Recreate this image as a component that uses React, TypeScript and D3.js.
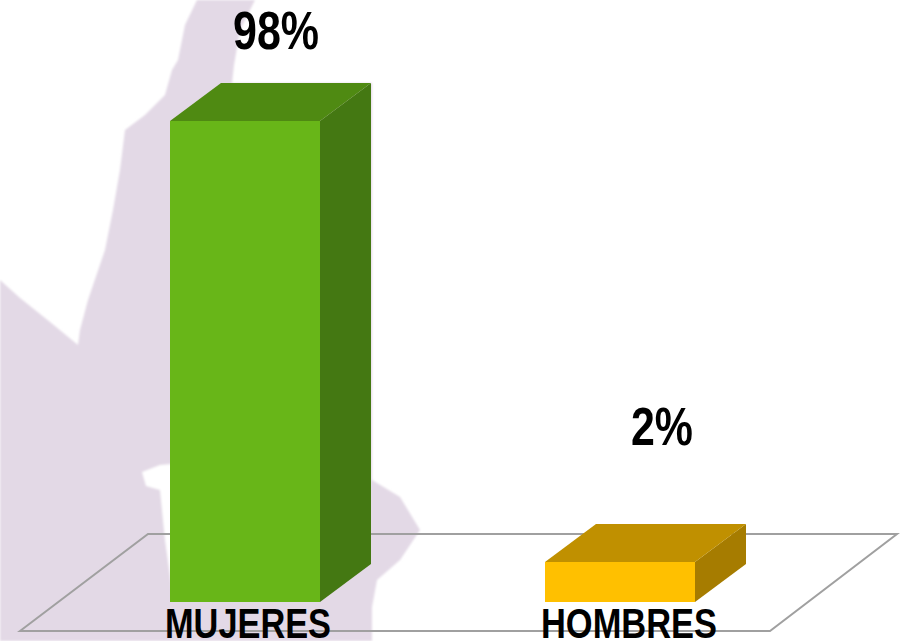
import * as d3 from "d3"
import { useEffect, useRef } from "react"

const categories = ["MUJERES", "HOMBRES"]
const percents = [98, 2]
const frontColours = ["#68b618", "#ffc000"]
const topColours = ["#4f8a12", "#c09000"]
const sideColours = ["#447812", "#a67c00"]

// pale map silhouette behind the chart, purely decorative
const silhouette =
  "M197,0 L185,25 L178,60 L172,70 L165,95 L145,115 L125,130 L120,170 L113,210 L105,250 L88,300 L80,330 L78,345 L50,322 L20,298 L0,280 L0,641 L372,641 L372,607 L377,580 L400,560 L420,530 L400,497 L372,480 L372,83 L232,83 L234,65 L240,30 L255,0 Z"
const notch = "M142,472 L160,465 L172,464 L172,590 L165,540 L160,490 L146,486 Z"

const width = 905
const height = 641
const baseY = 602
const depthX = 51
const depthY = 38
const fontFamily = "'Liberation Sans', Arial, sans-serif"

const App = () => {
  const ref = useRef<SVGSVGElement>(null)

  useEffect(() => {
    const svg = d3.select(ref.current)
    svg.selectAll("*").remove()

    const x = d3
      .scaleBand()
      .domain(categories)
      .range([57.5, 807.5])
      .paddingInner(0.6)
      .paddingOuter(0.3)

    // the source chart does not draw its bars to a linear scale: 2% is much taller than it should be
    const y = d3.scaleLinear().domain([0, 2, 98]).range([baseY, 562, 121])

    svg
      .append("defs")
      .append("filter")
      .attr("id", "soft")
      .append("feGaussianBlur")
      .attr("stdDeviation", 1)

    const backdrop = svg.append("g").attr("filter", "url(#soft)")
    backdrop.append("path").attr("d", silhouette).attr("fill", "#e3d9e6")
    backdrop.append("path").attr("d", notch).attr("fill", "#ffffff")

    const line = d3.line()
    svg
      .append("path")
      .attr("d", line([[20, 631], [148, 534], [897, 534], [770, 631]]) + "Z")
      .attr("fill", "none")
      .attr("stroke", "#a0a0a0")
      .attr("stroke-width", 2)

    const bars = svg
      .selectAll("g.bar")
      .data(categories)
      .enter()
      .append("g")
      .attr("class", "bar")

    bars
      .append("path")
      .attr("fill", (d, i) => sideColours[i])
      .attr("d", (d, i) => {
        const x1 = x(d) + x.bandwidth()
        return line([
          [x1, y(percents[i])],
          [x1 + depthX, y(percents[i]) - depthY],
          [x1 + depthX, baseY - depthY],
          [x1, baseY],
        ]) + "Z"
      })

    bars
      .append("path")
      .attr("fill", (d, i) => topColours[i])
      .attr("d", (d, i) => {
        const x0 = x(d)
        const top = y(percents[i])
        return line([
          [x0, top],
          [x0 + depthX, top - depthY],
          [x0 + x.bandwidth() + depthX, top - depthY],
          [x0 + x.bandwidth(), top],
        ]) + "Z"
      })

    bars
      .append("rect")
      .attr("x", (d) => x(d))
      .attr("y", (d, i) => y(percents[i]))
      .attr("width", x.bandwidth())
      .attr("height", (d, i) => baseY - y(percents[i]))
      .attr("fill", (d, i) => frontColours[i])

    const axis = svg
      .append("g")
      .attr("transform", `translate(0,${baseY})`)
      .call(d3.axisBottom(x).tickSize(0).tickPadding(0))
    axis.select(".domain").remove()
    // no narrow bold font is installed, so the labels are squeezed to the reference widths
    axis
      .selectAll("text")
      .attr("fill", "#000000")
      .style("font-family", fontFamily)
      .style("font-weight", "bold")
      .style("font-size", "43px")
      .attr("dy", null)
      .attr("y", 36)
      .attr("x", (d) => (d === "MUJERES" ? 3 : 9))
      .attr("textLength", (d) => (d === "MUJERES" ? 166 : 176))
      .attr("lengthAdjust", "spacingAndGlyphs")

    bars
      .append("text")
      .attr("x", (d, i) => x(d) + x.bandwidth() / 2 + (i === 0 ? 31 : 42))
      .attr("y", (d, i) => y(percents[i]) - (i === 0 ? 72 : 117))
      .attr("text-anchor", "middle")
      .attr("fill", "#000000")
      .attr("textLength", (d, i) => (i === 0 ? 86 : 62))
      .attr("lengthAdjust", "spacingAndGlyphs")
      .style("font-family", fontFamily)
      .style("font-weight", "bold")
      .style("font-size", "54px")
      .text((d, i) => `${percents[i]}%`)
  }, [])

  return (
    <svg
      ref={ref}
      width={width}
      height={height}
      style={{ position: "absolute", left: 0, top: 0, background: "#ffffff" }}
    />
  )
}

export default App
